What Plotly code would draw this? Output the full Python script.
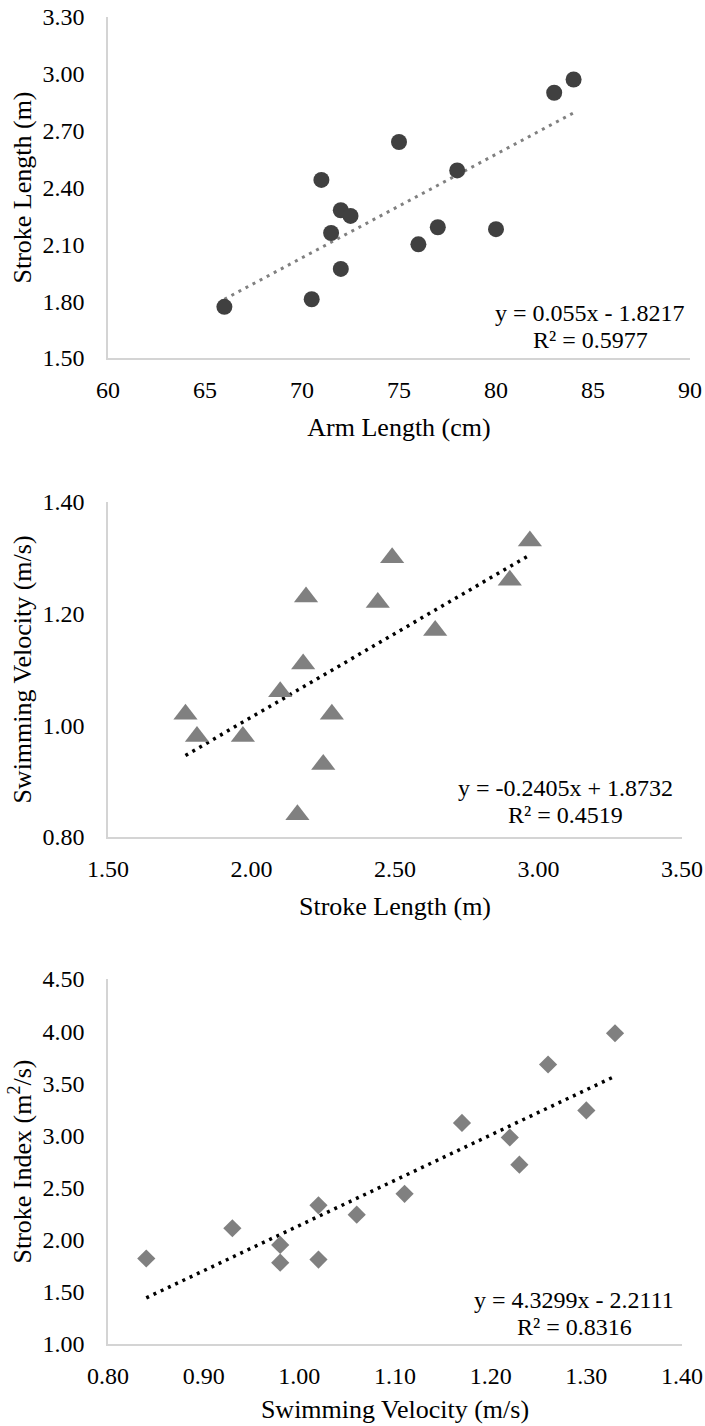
import numpy as np
import plotly.graph_objects as go

# ---------------- data ----------------
arm_length = [66, 70.5, 71, 72, 72.5, 71.5, 72, 75, 76, 77, 78, 80, 83, 84]
stroke_length_1 = [1.77, 1.81, 2.44, 2.28, 2.25, 2.16, 1.97, 2.64, 2.10, 2.19, 2.49, 2.18, 2.90, 2.97]

stroke_length_2 = [1.77, 1.81, 1.97, 2.10, 2.16, 2.18, 2.19, 2.25, 2.28, 2.44, 2.49, 2.64, 2.90, 2.97]
swim_velocity_2 = [1.02, 0.98, 0.98, 1.06, 0.84, 1.11, 1.23, 0.93, 1.02, 1.22, 1.30, 1.17, 1.26, 1.33]

swim_velocity_3 = [0.84, 0.93, 0.98, 0.98, 1.02, 1.02, 1.06, 1.11, 1.17, 1.22, 1.23, 1.26, 1.30, 1.33]
stroke_index_3 = [1.82, 2.11, 1.95, 1.78, 2.33, 1.81, 2.24, 2.44, 3.12, 2.98, 2.72, 3.68, 3.24, 3.98]

eq_text_1 = ["y = 0.055x - 1.8217", "R² = 0.5977"]
eq_text_2 = ["y = -0.2405x + 1.8732", "R² = 0.4519"]
eq_text_3 = ["y = 4.3299x - 2.2111", "R² = 0.8316"]

x_titles = ["Arm Length (cm)", "Stroke Length (m)", "Swimming Velocity (m/s)"]
y_titles = ["Stroke Length (m)", "Swimming Velocity (m/s)", "Stroke Index (m<sup>2</sup>/s)"]

# ---------------- layout helpers ----------------
W, H = 705, 1426
FONT = "Liberation Serif, Times New Roman, serif"
AXIS_COLOR = "#d4d4d4"

def px_x(p):
    return p / W

def px_y(p):
    return 1 - p / H

def trend(xs, ys):
    k, b = np.polyfit(xs, ys, 1)
    xx = np.array([min(xs), max(xs)])
    return xx, k * xx + b

fig = go.Figure()

panels = [
    dict(x=arm_length, y=stroke_length_1, symbol="circle", size=16, color="#404040",
         tcolor="#808080", twidth=3, eq=eq_text_1,
         xr=[60, 90], xd=5, xf="d", yr=[1.5, 3.3], yd=0.3, yf=".2f",
         top=17, bottom=358, right=690, eqx=590, eqy=[313, 340], xts=16),
    dict(x=stroke_length_2, y=swim_velocity_2, symbol="triangle-up", size=21, color="#808080",
         tcolor="#000000", twidth=3.5, eq=eq_text_2,
         xr=[1.5, 3.5], xd=0.5, xf=".2f", yr=[0.8, 1.4], yd=0.2, yf=".2f",
         top=502, bottom=837, right=682, eqx=565, eqy=[788, 815], xts=16),
    dict(x=swim_velocity_3, y=stroke_index_3, symbol="diamond", size=14, color="#808080",
         tcolor="#000000", twidth=3.5, eq=eq_text_3,
         xr=[0.8, 1.4], xd=0.1, xf=".2f", yr=[1.0, 4.5], yd=0.5, yf=".2f",
         top=979, bottom=1344, right=682, eqx=574, eqy=[1300, 1327], xts=12),
]

annotations = []
for i, p in enumerate(panels):
    n = "" if i == 0 else str(i + 1)
    xa, ya = "x" + n, "y" + n
    tx, ty = trend(p["x"], p["y"])
    fig.add_trace(go.Scatter(x=tx, y=ty, mode="lines", xaxis=xa, yaxis=ya,
                             line=dict(color=p["tcolor"], width=p["twidth"], dash="3px,5px"),
                             showlegend=False, hoverinfo="skip"))
    fig.add_trace(go.Scatter(x=p["x"], y=p["y"], mode="markers", xaxis=xa, yaxis=ya,
                             marker=dict(symbol=p["symbol"], size=p["size"], color=p["color"],
                                         line=dict(width=0)),
                             showlegend=False))
    common = dict(showline=True, linecolor=AXIS_COLOR, linewidth=1.5, showgrid=False,
                  zeroline=False, ticks="", automargin=False,
                  tickfont=dict(family=FONT, size=24, color="black"))
    fig.layout["xaxis" + n] = dict(
        domain=[px_x(108), px_x(p["right"])], anchor=ya, range=p["xr"], dtick=p["xd"],
        tick0=p["xr"][0], tickformat=p["xf"], ticklabelstandoff=9,
        title=dict(text=x_titles[i], font=dict(family=FONT, size=26, color="black"), standoff=p["xts"]),
        **common)
    fig.layout["yaxis" + n] = dict(
        domain=[px_y(p["bottom"]), px_y(p["top"])], anchor=xa, range=p["yr"], dtick=p["yd"],
        tick0=p["yr"][0], tickformat=p["yf"], ticklabelstandoff=17,
        title=dict(text=y_titles[i], font=dict(family=FONT, size=26, color="black"), standoff=3),
        **common)
    for line_text, yy in zip(p["eq"], p["eqy"]):
        annotations.append(dict(text=line_text, xref="paper", yref="paper",
                                x=px_x(p["eqx"]), y=px_y(yy), xanchor="center", yanchor="middle",
                                showarrow=False, font=dict(family=FONT, size=24, color="black")))

fig.update_layout(width=W, height=H, autosize=False,
                  margin=dict(l=0, r=0, t=0, b=0),
                  paper_bgcolor="white", plot_bgcolor="white",
                  annotations=annotations, template="none")

fig.write_html("out.html")
